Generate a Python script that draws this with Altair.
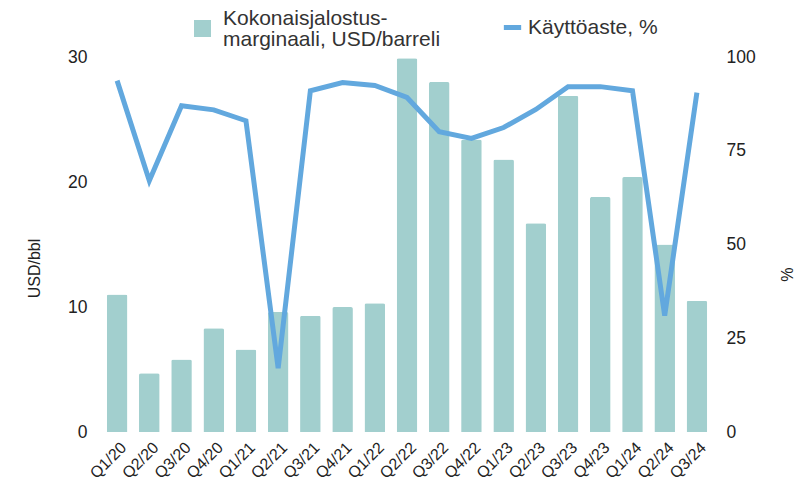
import altair as alt
import pandas as pd

quarters = ["Q1/20", "Q2/20", "Q3/20", "Q4/20", "Q1/21", "Q2/21", "Q3/21", "Q4/21",
            "Q1/22", "Q2/22", "Q3/22", "Q4/22", "Q1/23", "Q2/23", "Q3/23", "Q4/23",
            "Q1/24", "Q2/24", "Q3/24"]
margin_usd = [11.0, 4.7, 5.8, 8.3, 6.6, 9.6, 9.3, 10.0, 10.3, 29.9, 28.0, 23.4,
              21.8, 16.7, 26.9, 18.8, 20.4, 15.0, 10.5]
utilization = [93.7, 67.0, 87.0, 85.9, 83.0, 17.0, 91.0, 93.2, 92.4, 89.2, 80.1, 78.3,
               81.2, 86.0, 92.1, 92.1, 91.0, 31.0, 90.5]

bar_name = "Kokonaisjalostus-|marginaali, USD/barreli"
line_name = "Käyttöaste, %"

df = pd.DataFrame({"q": quarters, "m": margin_usd, "u": utilization,
                   "bs": bar_name, "ls": line_name})

FONT = "Liberation Sans"
BAR_C = "#A2CFCE"
LINE_C = "#62A8DE"

x = alt.X("q:N", sort=quarters, title=None,
          scale=alt.Scale(paddingInner=0.36, paddingOuter=0.18),
          axis=alt.Axis(labelAngle=-45, labelFontSize=16, labelColor="#222",
                        domain=False, ticks=False, labelPadding=7, labelOffset=1,
                        labelFont=FONT))

bars = alt.Chart(df).mark_bar(cornerRadiusTopLeft=2, cornerRadiusTopRight=2).encode(
    x=x,
    y=alt.Y("m:Q", scale=alt.Scale(domain=[0, 30]),
            axis=alt.Axis(title="USD/bbl", values=[0, 10, 20, 30], grid=False,
                          domain=False, ticks=False, labelFontSize=17.5, labelPadding=14,
                          labelColor="#222", titleFontSize=16, titleFontWeight="normal",
                          titleColor="#222", titlePadding=25, titleY=211,
                          labelFont=FONT, titleFont=FONT)),
    color=alt.Color("bs:N", scale=alt.Scale(domain=[bar_name], range=[BAR_C]),
                    legend=alt.Legend(title=None, orient="none", legendX=91, legendY=-39,
                                      symbolType="square", symbolSize=289,
                                      labelFontSize=21, labelFont=FONT, labelColor="#333",
                                      labelOffset=10, labelBaseline="line-bottom",
                                      labelExpr="split(datum.label, '|')",
                                      labelLimit=400)),
)

line = alt.Chart(df).mark_line(strokeWidth=5, strokeJoin="miter").encode(
    x=x,
    y=alt.Y("u:Q", scale=alt.Scale(domain=[0, 100]),
            axis=alt.Axis(title="%", orient="right", values=[0, 25, 50, 75, 100], grid=False,
                          domain=False, ticks=False, labelFontSize=17.5, labelPadding=13,
                          labelColor="#222", titleFontSize=16, titleFontWeight="normal",
                          titleColor="#222", titlePadding=22, titleY=217,
                          labelFont=FONT, titleFont=FONT)),
    stroke=alt.Stroke("ls:N", scale=alt.Scale(domain=[line_name], range=[LINE_C]),
                      legend=alt.Legend(title=None, orient="none", legendX=400, legendY=-41,
                                        symbolType="stroke", symbolStrokeWidth=5, symbolSize=300,
                                        labelFontSize=21, labelFont=FONT, labelColor="#333",
                                        labelLimit=400)),
)

chart = alt.layer(bars, line).resolve_scale(y="independent", color="independent").properties(
    width=612, height=375,
    autosize=alt.AutoSizeParams(type="none"),
    padding={"left": 93, "top": 49, "right": 84, "bottom": 56},
).configure(
    view=alt.ViewConfig(stroke=None),
    style={"guide-label": {"lineHeight": 21}},
)

chart.save("out.html", embed_options={"renderer": "svg", "actions": False})
